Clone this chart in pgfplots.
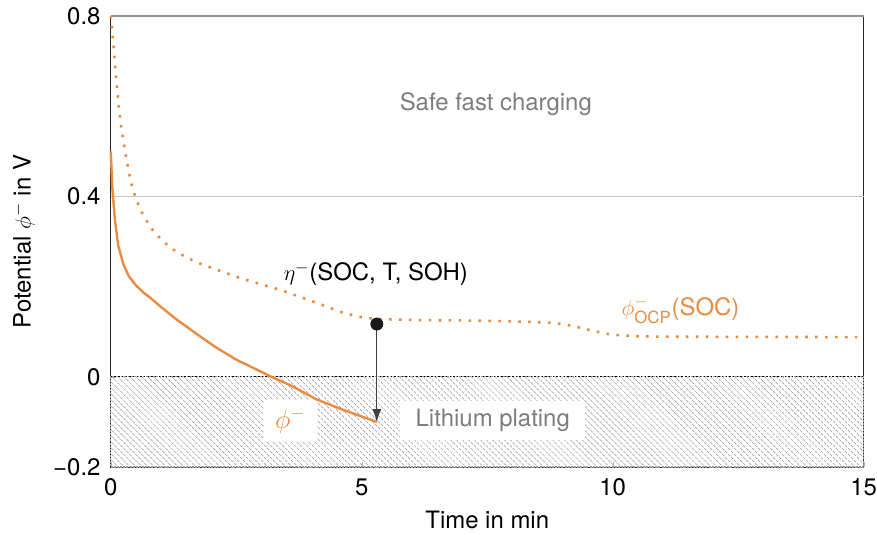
\documentclass[border=0pt]{standalone}
\usepackage{fontspec}
\setmainfont{TeX Gyre Heros}
\usepackage{pgfplots}
\pgfplotsset{compat=1.18}
\usetikzlibrary{patterns.meta,arrows.meta}

\definecolor{anode}{RGB}{232,140,66}
\definecolor{zonetext}{RGB}{125,125,128}

% open-circuit potential of the negative electrode
\pgfplotstableread{
t V
0 0.800
0.05 0.740
0.10 0.670
0.15 0.610
0.20 0.560
0.30 0.490
0.40 0.432
0.50 0.395
0.60 0.368
0.80 0.330
1.00 0.305
1.20 0.285
1.50 0.265
1.80 0.250
2.20 0.234
2.60 0.218
3.00 0.205
3.40 0.192
3.80 0.176
4.20 0.160
4.60 0.143
5.00 0.132
5.30 0.128
6.00 0.126
7.00 0.125
8.00 0.123
8.80 0.120
9.20 0.113
9.60 0.102
10.00 0.093
10.50 0.090
11.00 0.089
15.00 0.088
}\ocp

% electrode potential during charging
\pgfplotstableread{
t V
0 0.500
0.03 0.420
0.08 0.350
0.15 0.290
0.25 0.250
0.36 0.223
0.50 0.203
0.65 0.187
0.80 0.174
1.00 0.155
1.30 0.128
1.60 0.104
1.80 0.088
2.10 0.065
2.50 0.038
2.80 0.022
3.20 0.000
3.60 -0.020
4.10 -0.050
4.60 -0.072
5.00 -0.088
5.30 -0.100
}\phineg

\newcommand{\lblfont}{\fontsize{13}{15.6}\selectfont}

\begin{document}
\begin{tikzpicture}
\begin{axis}[
  scale only axis,
  width=409pt, height=245pt,
  xmin=0, xmax=15, ymin=-0.2, ymax=0.8,
  xtick={0,5,10,15},
  ytick={-0.2,0,0.4,0.8},
  yticklabels={−0.2,0,0.4,0.8},
  /pgf/number format/assume math mode=true,
  axis line style={black!85},
  tick style={gray!60},
  major tick length=3pt,
  tick pos=bottom,
  ytick pos=left,
  tick label style={font=\lblfont, inner sep=0pt},
  xticklabel style={anchor=north, yshift=-6pt},
  yticklabel style={anchor=east, xshift=-5.4pt},
  label style={font=\lblfont, inner sep=0pt},
  xlabel={Time in min},
  xlabel style={yshift=-8pt},
  ylabel={Potential $\phi^{-}$ in V},
  ylabel style={yshift=9.7pt},
  clip=false,
]
% plating zone below 0 V
\addplot[draw=gray!80, line width=0.6pt, dash pattern=on 1.1pt off 0.6pt,
  pattern={Lines[angle=-45, distance=2.3pt, line width=0.35pt]}, pattern color=gray!70]
  coordinates {(0,-0.2) (15,-0.2) (15,0) (0,0)} -- cycle;
\addplot[black, line width=0.5pt, dash pattern=on 0.8pt off 1.2pt] coordinates {(0,0) (15,0)};
\addplot[gray!45, line width=0.5pt] coordinates {(0,0.4) (15,0.4)};
\addplot[gray!85, line width=0.9pt] coordinates {(0,0.8) (15,0.8)};

% zone and curve labels (boxed ones sit under the curves)
\node[zonetext, font=\lblfont] at (axis cs:7.67,0.605) {Safe fast charging};
\node[zonetext, fill=white, inner xsep=8.5pt, inner ysep=4.5pt, font=\lblfont] at (axis cs:7.61,-0.096) {Lithium plating};
\node[anode, fill=white, inner xsep=6pt, inner ysep=4pt, font=\fontsize{14.5}{17}\selectfont] at (axis cs:3.58,-0.097) {$\phi^{-}$};
\node[black, font=\lblfont] at (axis cs:5.28,0.228) {$\eta^{-}$(SOC, T, SOH)};
\node[anode, font=\lblfont] at (axis cs:11.35,0.148) {$\phi^{-}_{\mathrm{OCP}}$(SOC)};

\addplot[anode, line width=1.4pt, dash pattern=on 1.4pt off 4pt, line cap=butt] table[x=t,y=V] {\ocp};
\addplot[anode, line width=1.3pt] table[x=t,y=V] {\phineg};

\addplot[black!75, line width=0.6pt, -{Latex[length=7pt,width=5pt]}, shorten <=2pt]
  coordinates {(5.3,0.117) (5.3,-0.1)};
\addplot[only marks, mark=*, mark size=3.3pt, black!90] coordinates {(5.3,0.117)};
\end{axis}
% white margin round the labels
\path (current bounding box.south west) ++(-7pt,-3pt);
\path (current bounding box.north east) ++(0,4pt);
\end{tikzpicture}
\end{document}
